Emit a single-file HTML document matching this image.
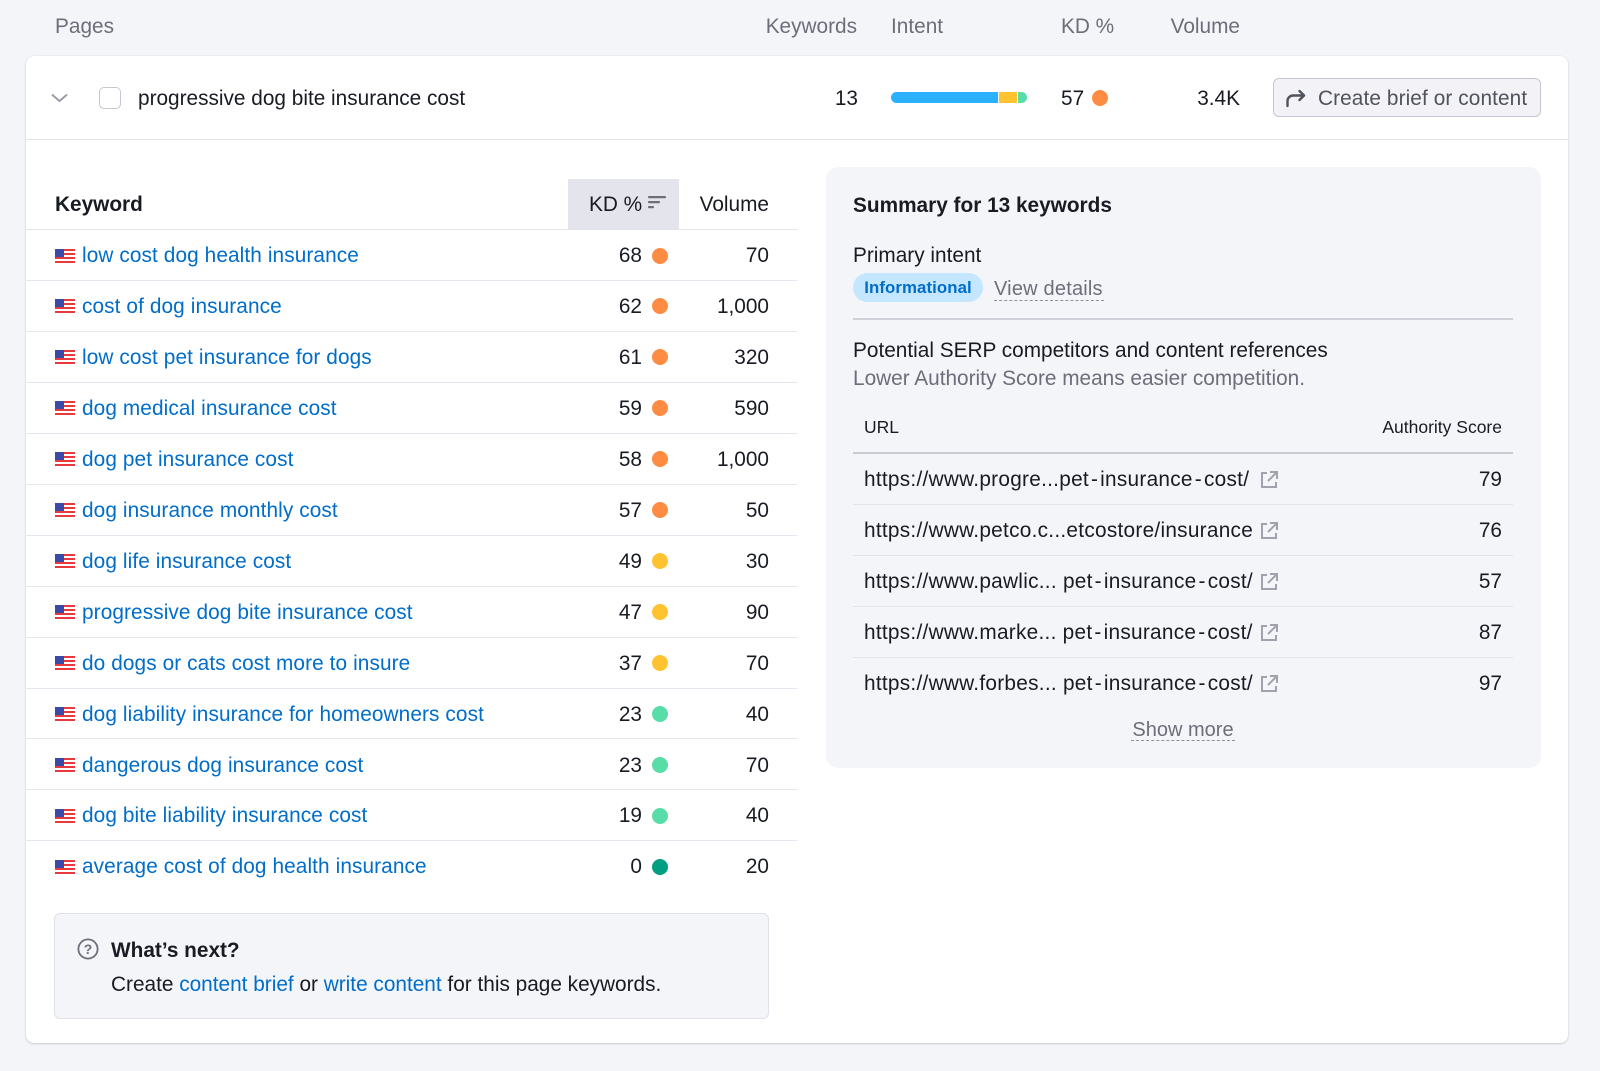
<!DOCTYPE html>
<html>
<head>
<meta charset="utf-8">
<style>
*{box-sizing:border-box;margin:0;padding:0}
html,body{width:1600px;height:1071px;overflow:hidden}
body{background:#f4f5f9;font-family:"Liberation Sans",Arial,sans-serif;font-size:20.8px;color:#191b23;position:relative}
.a{position:absolute;white-space:nowrap}
.g{color:#6c6e79}
.lh{line-height:28px}
.card{position:absolute;left:26px;top:56px;width:1542px;height:987px;background:#fff;border-radius:8px;box-shadow:0 1px 2px rgba(25,27,35,.18),0 0 1px rgba(25,27,35,.12)}
.row{position:absolute;left:26px;width:771px;height:50.95px;border-bottom:1px solid #e6e7ee}
.row.last{border-bottom:none}
.row .fl{position:absolute;left:29px;top:18.5px;width:20px;height:14px}
.row .kw{position:absolute;left:56px;top:0;line-height:52px;color:#006dca;letter-spacing:.1px;white-space:nowrap}
.row .kd{position:absolute;right:155px;top:0;line-height:52px}
.row .dot{position:absolute;left:626px;top:17.5px;width:16px;height:16px;border-radius:50%}
.row .vol{position:absolute;right:28px;top:0;line-height:52px}
.o{background:#ff8c43}.y{background:#ffc331}.gr{background:#59dda8}.dg{background:#009f81}
.panel{position:absolute;left:826px;top:167px;width:715px;height:601px;background:#f4f5f9;border-radius:12px}
.urow{position:absolute;left:853px;width:660px;height:51px;border-bottom:1px solid #e3e4ea}
.urow.last{border-bottom:none}
.urow .u{position:absolute;left:11px;top:0;line-height:52px;letter-spacing:.27px}
.urow .u i{font-style:normal;margin:0 2px}
.urow .ic{position:absolute;left:405px;top:15px}
.urow .n{position:absolute;right:11px;top:0;line-height:52px}
</style>
</head>
<body>
<!-- top header labels -->
<div class="a g lh" style="left:55px;top:13px">Pages</div>
<div class="a g lh" style="right:743px;top:13px">Keywords</div>
<div class="a g lh" style="left:891px;top:13px">Intent</div>
<div class="a g lh" style="left:1061px;top:13px">KD %</div>
<div class="a g lh" style="right:360px;top:13px">Volume</div>

<div class="card"></div>

<!-- top row -->
<svg class="a" style="left:50px;top:91px" width="20" height="14" viewBox="0 0 20 14"><polyline points="2.5,4 9.5,10 16.5,4" fill="none" stroke="#9a9da7" stroke-width="2" stroke-linecap="round" stroke-linejoin="round"/></svg>
<div class="a" style="left:99px;top:87px;width:22px;height:22px;border:1.5px solid #c4c7cf;border-radius:5px;background:#fff"></div>
<div class="a lh" style="left:138px;top:85px">progressive dog bite insurance cost</div>
<div class="a lh" style="right:742px;top:85px">13</div>
<div class="a" style="left:891px;top:92px;width:136px;height:11px;border-radius:6px;overflow:hidden;background:#fff">
  <div class="a" style="left:0;top:0;width:107px;height:11px;background:#2bb0fe"></div>
  <div class="a" style="left:108px;top:0;width:18px;height:11px;background:#ffc331"></div>
  <div class="a" style="left:127px;top:0;width:9px;height:11px;background:#59dda8"></div>
</div>
<div class="a lh" style="left:1061px;top:85px">57</div>
<div class="a o" style="left:1092px;top:90px;width:16px;height:16px;border-radius:50%"></div>
<div class="a lh" style="right:360px;top:85px">3.4K</div>
<div class="a" style="left:1273px;top:78px;width:268px;height:39px;border:1px solid #c4c7cf;border-radius:6px;background:#f3f3f7"></div>
<svg class="a" style="left:1284px;top:88px" width="24" height="20" viewBox="0 0 24 20"><path d="M3.5 18 V13 a5.5 5.5 0 0 1 5.5-5.5 H20" fill="none" stroke="#50525c" stroke-width="2.4" stroke-linecap="round"/><path d="M15.5 3 L20 7.5 L15.5 12" fill="none" stroke="#50525c" stroke-width="2.4" stroke-linecap="round" stroke-linejoin="round"/></svg>
<div class="a lh" style="left:1318px;top:85px;color:#50525c;letter-spacing:.1px">Create brief or content</div>

<!-- card separator -->
<div class="a" style="left:26px;top:139px;width:1542px;height:1px;background:#e3e4ea"></div>

<!-- keyword table header -->
<div class="a" style="left:568px;top:179px;width:111px;height:51px;background:#e3e4ec"></div>
<div class="a lh" style="left:55px;top:191px;font-weight:bold">Keyword</div>
<div class="a lh" style="left:589px;top:191px">KD %</div>
<svg class="a" style="left:648px;top:195px" width="20" height="14" viewBox="0 0 20 14"><rect x="0" y="1" width="18" height="2.2" rx="1" fill="#6c6e79"/><rect x="0" y="6" width="12" height="2.2" rx="1" fill="#6c6e79"/><rect x="0" y="11" width="6" height="2.2" rx="1" fill="#6c6e79"/></svg>
<div class="a lh" style="right:831px;top:191px">Volume</div>
<div class="a" style="left:26px;top:229px;width:771px;height:1px;background:#e3e4ea"></div>

<div class="row" style="top:230.00px"><svg class="fl" viewBox="0 0 20 14"><rect width="20" height="14" fill="#fff"/><rect y="0" width="20" height="2" fill="#e8393e"/><rect y="4" width="20" height="2" fill="#e8393e"/><rect y="8" width="20" height="2" fill="#e8393e"/><rect y="12" width="20" height="2" fill="#e8393e"/><rect width="9" height="8" fill="#3b4aa8"/></svg><div class="kw">low cost dog health insurance</div><div class="kd">68</div><div class="dot o"></div><div class="vol">70</div></div>
<div class="row" style="top:280.95px"><svg class="fl" viewBox="0 0 20 14"><rect width="20" height="14" fill="#fff"/><rect y="0" width="20" height="2" fill="#e8393e"/><rect y="4" width="20" height="2" fill="#e8393e"/><rect y="8" width="20" height="2" fill="#e8393e"/><rect y="12" width="20" height="2" fill="#e8393e"/><rect width="9" height="8" fill="#3b4aa8"/></svg><div class="kw">cost of dog insurance</div><div class="kd">62</div><div class="dot o"></div><div class="vol">1,000</div></div>
<div class="row" style="top:331.90px"><svg class="fl" viewBox="0 0 20 14"><rect width="20" height="14" fill="#fff"/><rect y="0" width="20" height="2" fill="#e8393e"/><rect y="4" width="20" height="2" fill="#e8393e"/><rect y="8" width="20" height="2" fill="#e8393e"/><rect y="12" width="20" height="2" fill="#e8393e"/><rect width="9" height="8" fill="#3b4aa8"/></svg><div class="kw">low cost pet insurance for dogs</div><div class="kd">61</div><div class="dot o"></div><div class="vol">320</div></div>
<div class="row" style="top:382.85px"><svg class="fl" viewBox="0 0 20 14"><rect width="20" height="14" fill="#fff"/><rect y="0" width="20" height="2" fill="#e8393e"/><rect y="4" width="20" height="2" fill="#e8393e"/><rect y="8" width="20" height="2" fill="#e8393e"/><rect y="12" width="20" height="2" fill="#e8393e"/><rect width="9" height="8" fill="#3b4aa8"/></svg><div class="kw">dog medical insurance cost</div><div class="kd">59</div><div class="dot o"></div><div class="vol">590</div></div>
<div class="row" style="top:433.80px"><svg class="fl" viewBox="0 0 20 14"><rect width="20" height="14" fill="#fff"/><rect y="0" width="20" height="2" fill="#e8393e"/><rect y="4" width="20" height="2" fill="#e8393e"/><rect y="8" width="20" height="2" fill="#e8393e"/><rect y="12" width="20" height="2" fill="#e8393e"/><rect width="9" height="8" fill="#3b4aa8"/></svg><div class="kw">dog pet insurance cost</div><div class="kd">58</div><div class="dot o"></div><div class="vol">1,000</div></div>
<div class="row" style="top:484.75px"><svg class="fl" viewBox="0 0 20 14"><rect width="20" height="14" fill="#fff"/><rect y="0" width="20" height="2" fill="#e8393e"/><rect y="4" width="20" height="2" fill="#e8393e"/><rect y="8" width="20" height="2" fill="#e8393e"/><rect y="12" width="20" height="2" fill="#e8393e"/><rect width="9" height="8" fill="#3b4aa8"/></svg><div class="kw">dog insurance monthly cost</div><div class="kd">57</div><div class="dot o"></div><div class="vol">50</div></div>
<div class="row" style="top:535.70px"><svg class="fl" viewBox="0 0 20 14"><rect width="20" height="14" fill="#fff"/><rect y="0" width="20" height="2" fill="#e8393e"/><rect y="4" width="20" height="2" fill="#e8393e"/><rect y="8" width="20" height="2" fill="#e8393e"/><rect y="12" width="20" height="2" fill="#e8393e"/><rect width="9" height="8" fill="#3b4aa8"/></svg><div class="kw">dog life insurance cost</div><div class="kd">49</div><div class="dot y"></div><div class="vol">30</div></div>
<div class="row" style="top:586.65px"><svg class="fl" viewBox="0 0 20 14"><rect width="20" height="14" fill="#fff"/><rect y="0" width="20" height="2" fill="#e8393e"/><rect y="4" width="20" height="2" fill="#e8393e"/><rect y="8" width="20" height="2" fill="#e8393e"/><rect y="12" width="20" height="2" fill="#e8393e"/><rect width="9" height="8" fill="#3b4aa8"/></svg><div class="kw">progressive dog bite insurance cost</div><div class="kd">47</div><div class="dot y"></div><div class="vol">90</div></div>
<div class="row" style="top:637.60px"><svg class="fl" viewBox="0 0 20 14"><rect width="20" height="14" fill="#fff"/><rect y="0" width="20" height="2" fill="#e8393e"/><rect y="4" width="20" height="2" fill="#e8393e"/><rect y="8" width="20" height="2" fill="#e8393e"/><rect y="12" width="20" height="2" fill="#e8393e"/><rect width="9" height="8" fill="#3b4aa8"/></svg><div class="kw">do dogs or cats cost more to insure</div><div class="kd">37</div><div class="dot y"></div><div class="vol">70</div></div>
<div class="row" style="top:688.55px"><svg class="fl" viewBox="0 0 20 14"><rect width="20" height="14" fill="#fff"/><rect y="0" width="20" height="2" fill="#e8393e"/><rect y="4" width="20" height="2" fill="#e8393e"/><rect y="8" width="20" height="2" fill="#e8393e"/><rect y="12" width="20" height="2" fill="#e8393e"/><rect width="9" height="8" fill="#3b4aa8"/></svg><div class="kw">dog liability insurance for homeowners cost</div><div class="kd">23</div><div class="dot gr"></div><div class="vol">40</div></div>
<div class="row" style="top:739.50px"><svg class="fl" viewBox="0 0 20 14"><rect width="20" height="14" fill="#fff"/><rect y="0" width="20" height="2" fill="#e8393e"/><rect y="4" width="20" height="2" fill="#e8393e"/><rect y="8" width="20" height="2" fill="#e8393e"/><rect y="12" width="20" height="2" fill="#e8393e"/><rect width="9" height="8" fill="#3b4aa8"/></svg><div class="kw">dangerous dog insurance cost</div><div class="kd">23</div><div class="dot gr"></div><div class="vol">70</div></div>
<div class="row" style="top:790.45px"><svg class="fl" viewBox="0 0 20 14"><rect width="20" height="14" fill="#fff"/><rect y="0" width="20" height="2" fill="#e8393e"/><rect y="4" width="20" height="2" fill="#e8393e"/><rect y="8" width="20" height="2" fill="#e8393e"/><rect y="12" width="20" height="2" fill="#e8393e"/><rect width="9" height="8" fill="#3b4aa8"/></svg><div class="kw">dog bite liability insurance cost</div><div class="kd">19</div><div class="dot gr"></div><div class="vol">40</div></div>
<div class="row last" style="top:841.40px"><svg class="fl" viewBox="0 0 20 14"><rect width="20" height="14" fill="#fff"/><rect y="0" width="20" height="2" fill="#e8393e"/><rect y="4" width="20" height="2" fill="#e8393e"/><rect y="8" width="20" height="2" fill="#e8393e"/><rect y="12" width="20" height="2" fill="#e8393e"/><rect width="9" height="8" fill="#3b4aa8"/></svg><div class="kw">average cost of dog health insurance</div><div class="kd">0</div><div class="dot dg"></div><div class="vol">20</div></div>

<!-- What's next box -->
<div class="a" style="left:54px;top:913px;width:715px;height:106px;border:1px solid #e0e1e8;border-radius:6px;background:#f4f5f9"></div>
<svg class="a" style="left:77px;top:938px" width="22" height="22" viewBox="0 0 22 22"><circle cx="11" cy="11" r="9.6" fill="none" stroke="#6c6e79" stroke-width="1.8"/><text x="11" y="16" text-anchor="middle" font-family="Liberation Sans, sans-serif" font-size="14" font-weight="bold" fill="#6c6e79">?</text></svg>
<div class="a lh" style="left:111px;top:937px;font-weight:bold">What’s next?</div>
<div class="a lh" style="left:111px;top:971px">Create <span style="color:#006dca">content brief</span> or <span style="color:#006dca">write content</span> for this page keywords.</div>

<!-- Summary panel -->
<div class="panel"></div>
<div class="a lh" style="left:853px;top:192px;font-weight:bold">Summary for 13 keywords</div>
<div class="a lh" style="left:853px;top:242px">Primary intent</div>
<div class="a" style="left:853px;top:273px;width:130px;height:29px;border-radius:15px;background:#c5e6ff;color:#006dca;font-size:16.8px;line-height:29px;text-align:center;font-weight:bold;letter-spacing:.1px">Informational</div>
<div class="a lh g" style="left:994px;top:275px;font-size:20px;letter-spacing:.2px">View details</div>
<div class="a" style="left:994px;top:300px;width:110px;height:0;border-top:1.5px dashed #8f929c"></div>
<div class="a" style="left:853px;top:318px;width:660px;height:2px;background:#cfd1d8"></div>
<div class="a lh" style="left:853px;top:337px">Potential SERP competitors and content references</div>
<div class="a lh g" style="left:853px;top:365px">Lower Authority Score means easier competition.</div>
<div class="a" style="left:864px;top:415px;font-size:17.5px;line-height:24px">URL</div>
<div class="a" style="right:98px;top:415px;font-size:17.5px;line-height:24px">Authority Score</div>
<div class="a" style="left:853px;top:452px;width:660px;height:2px;background:#c9cbd2"></div>

<div class="urow" style="top:454px"><div class="u">https://www.progre...pet<i>-</i>insurance<i>-</i>cost/</div><svg class="ic" width="22" height="22" viewBox="0 0 22 22"><path d="M9 4H4v14h14v-5" fill="none" stroke="#a0a3ad" stroke-width="2"/><path d="M12 3h7v7M19 3l-9 9" fill="none" stroke="#a0a3ad" stroke-width="2"/></svg><div class="n">79</div></div>
<div class="urow" style="top:505px"><div class="u">https://www.petco.c...etcostore/insurance</div><svg class="ic" width="22" height="22" viewBox="0 0 22 22"><path d="M9 4H4v14h14v-5" fill="none" stroke="#a0a3ad" stroke-width="2"/><path d="M12 3h7v7M19 3l-9 9" fill="none" stroke="#a0a3ad" stroke-width="2"/></svg><div class="n">76</div></div>
<div class="urow" style="top:556px"><div class="u">https://www.pawlic... pet<i>-</i>insurance<i>-</i>cost/</div><svg class="ic" width="22" height="22" viewBox="0 0 22 22"><path d="M9 4H4v14h14v-5" fill="none" stroke="#a0a3ad" stroke-width="2"/><path d="M12 3h7v7M19 3l-9 9" fill="none" stroke="#a0a3ad" stroke-width="2"/></svg><div class="n">57</div></div>
<div class="urow" style="top:607px"><div class="u">https://www.marke... pet<i>-</i>insurance<i>-</i>cost/</div><svg class="ic" width="22" height="22" viewBox="0 0 22 22"><path d="M9 4H4v14h14v-5" fill="none" stroke="#a0a3ad" stroke-width="2"/><path d="M12 3h7v7M19 3l-9 9" fill="none" stroke="#a0a3ad" stroke-width="2"/></svg><div class="n">87</div></div>
<div class="urow last" style="top:658px"><div class="u">https://www.forbes... pet<i>-</i>insurance<i>-</i>cost/</div><svg class="ic" width="22" height="22" viewBox="0 0 22 22"><path d="M9 4H4v14h14v-5" fill="none" stroke="#a0a3ad" stroke-width="2"/><path d="M12 3h7v7M19 3l-9 9" fill="none" stroke="#a0a3ad" stroke-width="2"/></svg><div class="n">97</div></div>

<div class="a lh g" style="left:1131px;top:716px;width:104px;text-align:center;font-size:20px">Show more</div>
<div class="a" style="left:1131px;top:740px;width:104px;height:0;border-top:1.5px dashed #8f929c"></div>
</body>
</html>
